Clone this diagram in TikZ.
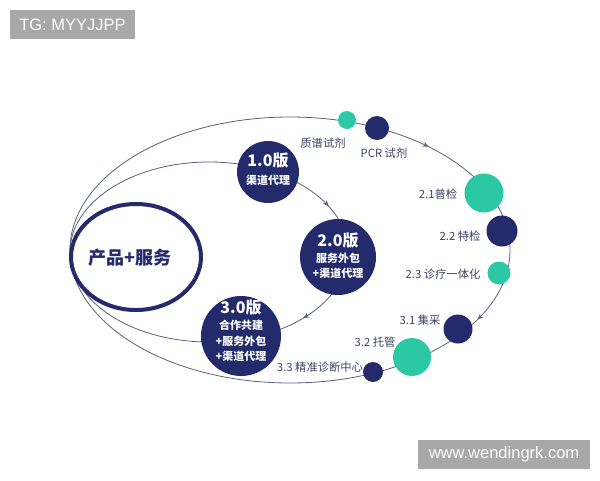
\documentclass[tikz,border=0pt]{standalone}
\usepackage{fontspec}
\setmainfont{Noto Sans CJK SC}
\newfontfamily\latinsans{Liberation Sans}
\usetikzlibrary{arrows.meta,decorations.markings}

\definecolor{navy}{HTML}{232B6C}
\definecolor{teal}{HTML}{2CC8A4}
\definecolor{orbitgray}{HTML}{5A5E7E}
\definecolor{labelgray}{HTML}{3D4168}
\definecolor{markgray}{HTML}{A8A8A8}

\begin{document}
\begin{tikzpicture}[x=1pt, y=-1pt,
    orbit/.style={draw=orbitgray, line width=0.8pt},
    navyball/.style={circle, fill=navy, inner sep=0pt, text=white, font=\bfseries},
    greenball/.style={circle, fill=teal, inner sep=0pt},
    tag/.style={text=labelgray, font=\fontsize{11.3}{13}\selectfont, inner sep=0pt},
    wm/.style={fill=markgray, text=white, font=\latinsans\fontsize{16.5}{18}\selectfont, inner sep=0pt}]
        \useasboundingbox (0, 0) rectangle (600, 480);

        % watermarks
        \node[wm, minimum width=125, minimum height=29] (tg) at (72.5, 24.5) {TG: MYYJJPP};
        \node[wm, minimum width=172, minimum height=29] (site) at (504, 454.5) {www.wendingrk.com};

        % orbits, drawn clockwise
        \draw[orbit, postaction={decorate}, decoration={markings,
            mark=at position 0.07 with {\arrow{Stealth[length=6pt, width=5pt, inset=2pt]}},
            mark=at position 0.877 with {\arrow{Stealth[length=6pt, width=5pt, inset=2pt]}}}]
            (290, 250) ellipse [x radius=220, y radius=133];
        \draw[orbit, postaction={decorate}, decoration={markings,
            mark=at position 0.115 with {\arrow{Stealth[length=6pt, width=5pt, inset=2pt]}},
            mark=at position 0.93 with {\arrow{Stealth[length=6pt, width=5pt, inset=2pt]}}}]
            (209, 252) ellipse [x radius=139, y radius=90];

        % core
        \draw[navy, line width=4pt, fill=white] (136, 257) ellipse [x radius=65, y radius=53];
        \node[text=navy, font=\bfseries\fontsize{18}{20}\selectfont] (core) at (130, 258) {产品+服务};

        % versions
        \node[navyball, minimum size=62] (v1) at (268, 172) {};
        \node[text=white, font=\bfseries\fontsize{16}{18}\selectfont] (v1title) at (268, 161) {1.0版};
        \node[text=white, font=\bfseries\fontsize{11}{13}\selectfont] (v1text) at (268, 180) {渠道代理};

        \node[navyball, minimum size=76] (v2) at (338, 257) {};
        \node[text=white, font=\bfseries\fontsize{16}{18}\selectfont] (v2title) at (338, 241) {2.0版};
        \node[text=white, font=\bfseries\fontsize{11}{15}\selectfont, align=center] (v2text) at (338, 266) {服务外包\\+渠道代理};

        \node[navyball, minimum size=80] (v3) at (241, 336) {};
        \node[text=white, font=\bfseries\fontsize{16}{18}\selectfont] (v3title) at (241, 308) {3.0版};
        \node[text=white, font=\bfseries\fontsize{11}{15.5}\selectfont, align=center] (v3text) at (241, 341) {合作共建\\+服务外包\\+渠道代理};

        % stations on the outer orbit
        \node[greenball, minimum size=18] (zhipu) at (347, 120) {};
        \node[navyball, minimum size=24] (pcr) at (377, 128) {};
        \node[greenball, minimum size=39] (pujian) at (484, 193) {};
        \node[navyball, minimum size=31] (tejian) at (502, 231) {};
        \node[greenball, minimum size=23] (zhenliao) at (499, 273) {};
        \node[navyball, minimum size=29] (jicai) at (458, 329) {};
        \node[greenball, minimum size=38] (tuoguan) at (412, 357) {};
        \node[navyball, minimum size=20] (jingzhun) at (373, 372) {};

        \node[tag] (zhipulabel) at (323, 143) {质谱试剂};
        \node[tag] (pcrlabel) at (384, 153) {PCR 试剂};
        \node[tag] (pujianlabel) at (438, 194) {2.1普检};
        \node[tag] (tejianlabel) at (460, 236) {2.2 特检};
        \node[tag] (zhenliaolabel) at (443, 274) {2.3 诊疗一体化};
        \node[tag] (jicailabel) at (420, 320) {3.1 集采};
        \node[tag] (tuoguanlabel) at (375, 342) {3.2 托管};
        \node[tag] (jingzhunlabel) at (320, 367) {3.3 精准诊断中心};

    \end{tikzpicture}
\end{document}
